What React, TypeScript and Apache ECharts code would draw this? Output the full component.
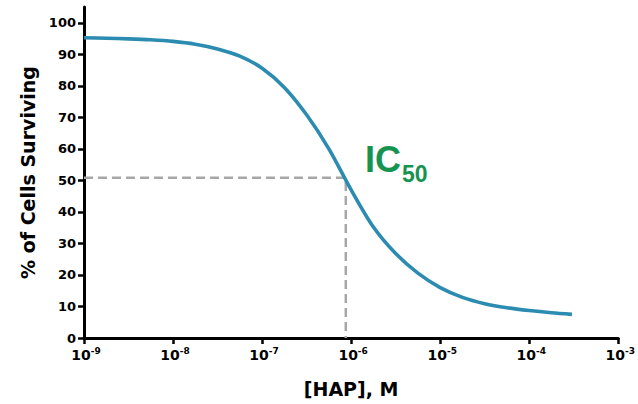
import React, { useEffect, useRef } from "react";
import * as echarts from "echarts";

// log10 of [HAP] (M) and % of cells surviving
const logConc = [-9.0, -8.75, -8.5, -8.25, -8.0, -7.75, -7.5, -7.25, -7.0, -6.75, -6.5, -6.25, -6.0, -5.75, -5.5, -5.25, -5.0, -4.75, -4.5, -4.25, -4.0, -3.75, -3.52];
const survival = [95.25, 95.1, 94.9, 94.6, 94.1, 93.2, 91.7, 89.4, 85.6, 79.5, 70.8, 60.0, 47.0, 35.2, 26.8, 20.6, 16.0, 12.9, 10.9, 9.6, 8.7, 8.0, 7.5];

const ic50Log = -6.06;
const ic50Value = 50.8;

const yTicks = [0, 10, 20, 30, 40, 50, 60, 70, 80, 90, 100];
const xMinLog = -9;
const xMaxLog = -3;

const curveColor = "#2c8bb1";
const dashColor = "#a7a7a9";
const icColor = "#179350";

export default function App() {
  const ref = useRef<HTMLDivElement>(null);
  useEffect(() => {
    document.body.style.margin = "0";
    const chart = echarts.init(ref.current!, null, { renderer: "svg" });
    const curveData = logConc.map((e, i) => [Math.pow(10, e), survival[i]]);
    const ic50Conc = Math.pow(10, ic50Log);
    const dashData = [
      [Math.pow(10, xMinLog), ic50Value],
      [ic50Conc, ic50Value],
      [ic50Conc, 0],
    ];
    const axisFont = "DejaVu Sans";
    chart.setOption({
      animation: false,
      grid: { left: 84, right: 14, top: 7, bottom: 66, containLabel: false },
      xAxis: {
        type: "log",
        logBase: 10,
        min: Math.pow(10, xMinLog),
        max: Math.pow(10, xMaxLog),
        splitNumber: 6,
        name: "[HAP], M",
        nameLocation: "middle",
        nameGap: 41,
        nameTextStyle: { fontFamily: axisFont, fontWeight: "bold", fontSize: 19, color: "#000" },
        axisLine: { lineStyle: { color: "#000", width: 3 } },
        axisTick: { show: true, length: 6, lineStyle: { color: "#000", width: 2.5 } },
        minorTick: { show: false },
        splitLine: { show: false },
        axisLabel: {
          margin: 10,
          padding: [0, 0, 0, 4],
          formatter: (v: number) => `{b|10}{s|${Math.round(Math.log10(v))}}`,
          rich: {
            b: { fontFamily: axisFont, fontWeight: "bold", fontSize: 14, color: "#000", lineHeight: 14 },
            s: { fontFamily: axisFont, fontWeight: "bold", fontSize: 9, color: "#000", lineHeight: 9, padding: [0, 0, 8, 0] },
          },
        },
      },
      yAxis: {
        type: "value",
        min: 0,
        max: 105,
        name: "% of Cells Surviving",
        nameLocation: "middle",
        nameGap: 40,
        nameTextStyle: { fontFamily: axisFont, fontWeight: "bold", fontSize: 19, color: "#000" },
        axisLine: { show: true, lineStyle: { color: "#000", width: 3 } },
        axisTick: { show: true, length: 6, customValues: yTicks, lineStyle: { color: "#000", width: 2.5 } },
        splitLine: { show: false },
        axisLabel: {
          customValues: yTicks,
          margin: 8,
          fontFamily: axisFont,
          fontWeight: "bold",
          fontSize: 13,
          color: "#000",
        },
      },
      graphic: [
        {
          type: "text",
          x: 365,
          y: 159,
          style: { text: "IC", fontFamily: "Liberation Sans", fontWeight: "bold", fontSize: 36, fill: icColor, verticalAlign: "middle", align: "left" },
        },
        {
          type: "text",
          x: 402,
          y: 173.5,
          style: { text: "50", fontFamily: "Liberation Sans", fontWeight: "bold", fontSize: 23, fill: icColor, verticalAlign: "middle", align: "left" },
        },
      ],
      series: [
        {
          type: "line",
          data: dashData,
          symbol: "none",
          z: 1,
          lineStyle: { color: dashColor, width: 2.5, type: [9, 5] },
        },
        {
          type: "line",
          data: curveData,
          symbol: "none",
          smooth: 0.3,
          z: 2,
          lineStyle: { color: curveColor, width: 3.6 },
        },
      ],
    });
    return () => chart.dispose();
  }, []);
  return <div ref={ref} style={{ width: 638, height: 404 }} />;
}
